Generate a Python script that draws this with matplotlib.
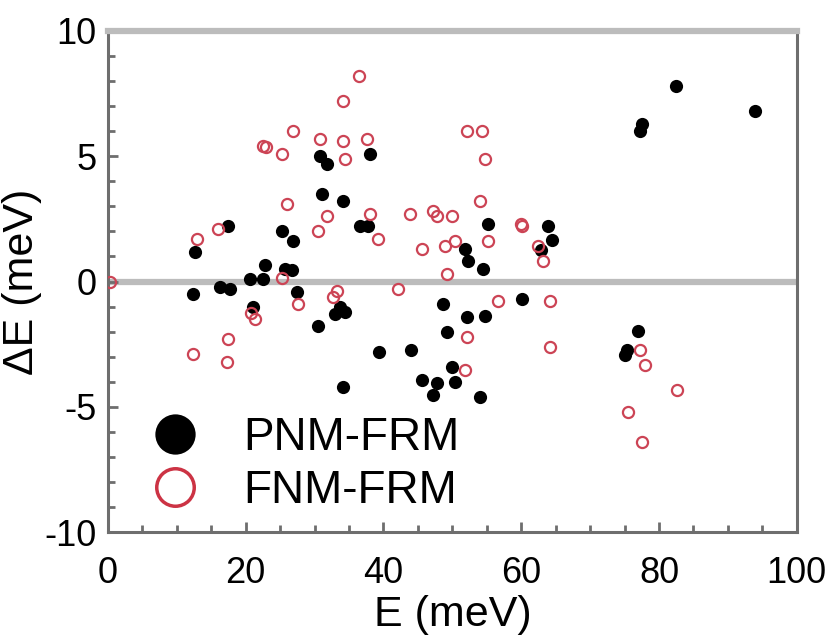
import matplotlib
matplotlib.use('Agg')
import matplotlib.pyplot as plt
from matplotlib.lines import Line2D
from matplotlib.ticker import MultipleLocator

plt.rcParams['font.family'] = ['Liberation Sans', 'DejaVu Sans']
plt.rcParams['axes.unicode_minus'] = False

# PNM-FRM (filled black)
pnm_e = [12.6, 12.3, 17.4, 16.3, 17.7, 20.6, 22.5, 22.8, 25.3, 26.9, 25.7, 26.7, 27.4, 21.0,
         30.8, 31.8, 38.0, 31.1, 34.1, 36.6, 37.7,
         33.7, 32.9, 34.4, 30.5, 39.3, 44.0, 34.1, 48.6, 52.1, 49.2, 49.9, 45.6, 47.7, 47.2, 50.4,
         51.8, 52.2, 55.2, 54.4, 63.9, 64.4, 62.8, 60.1, 54.7, 54.0,
         82.4, 77.6, 77.2, 93.9, 76.9, 75.3, 75.0]
pnm_de = [1.16, -0.5, 2.2, -0.2, -0.3, 0.12, 0.12, 0.64, 2.0, 1.6, 0.5, 0.44, -0.4, -1.0,
          5.0, 4.7, 5.1, 3.5, 3.2, 2.2, 2.2,
          -1.0, -1.28, -1.2, -1.76, -2.8, -2.75, -4.2, -0.88, -1.4, -2.0, -3.4, -3.95, -4.07, -4.55, -4.0,
          1.3, 0.8, 2.3, 0.48, 2.2, 1.64, 1.24, -0.68, -1.36, -4.6,
          7.8, 6.3, 6.0, 6.8, -1.96, -2.75, -2.95]

# FNM-FRM (open red)
fnm_e = [0.3, 12.9, 16.0, 22.5, 22.9, 25.3, 26.9, 26.0, 36.4, 34.1, 30.8, 34.1, 37.6, 34.4,
         31.8, 38.0, 30.5, 39.2, 43.8, 47.2, 47.8, 45.6, 52.1, 54.3, 54.7, 54.0, 49.9, 60.1, 60.0,
         48.9, 50.4, 55.2, 62.4, 63.1, 49.2, 25.3, 56.6, 64.2, 52.1, 64.2, 51.8,
         27.6, 33.2, 32.7, 42.1, 20.8, 21.3, 17.4, 12.3, 17.3,
         77.2, 77.9, 82.6, 75.5, 77.5]
fnm_de = [0.0, 1.7, 2.1, 5.4, 5.35, 5.1, 6.0, 3.1, 8.2, 7.2, 5.7, 5.6, 5.7, 4.9,
          2.6, 2.7, 2.0, 1.7, 2.7, 2.8, 2.6, 1.3, 6.0, 6.0, 4.9, 3.2, 2.6, 2.2, 2.3,
          1.4, 1.6, 1.6, 1.4, 0.8, 0.3, 0.16, -0.76, -0.76, -2.2, -2.6, -3.55,
          -0.88, -0.36, -0.6, -0.28, -1.24, -1.5, -2.3, -2.9, -3.2,
          -2.75, -3.35, -4.35, -5.2, -6.4]

red = '#cc4455'
gray = '#6e6e6e'
light = '#bcbcbc'

fig = plt.figure(figsize=(8.3, 6.39), dpi=100)
ax = fig.add_axes([0.130, 0.1674, 0.830, 0.7841])

ax.axhline(0, color=light, lw=4.5, zorder=0)
ax.plot(pnm_e, pnm_de, 'o', color='black', markersize=9.5, markeredgewidth=0, zorder=2)
ax.plot(fnm_e, fnm_de, 'o', markerfacecolor='none', markeredgecolor=red, markersize=8,
        markeredgewidth=1.6, zorder=3)

ax.set_xlim(0, 100)
ax.set_ylim(-10, 10)
ax.xaxis.set_major_locator(MultipleLocator(20))
ax.xaxis.set_minor_locator(MultipleLocator(5))
ax.yaxis.set_major_locator(MultipleLocator(5))
ax.yaxis.set_minor_locator(MultipleLocator(1))
ax.tick_params(which='both', direction='in', color=gray, width=2, top=False, right=False,
               labelsize=26)
ax.tick_params(axis='x', pad=17)
ax.tick_params(axis='y', pad=8)
ax.tick_params(which='major', length=7)
ax.tick_params(which='minor', length=5)

for s in ['left', 'bottom', 'right']:
    ax.spines[s].set_color(gray)
    ax.spines[s].set_linewidth(2.2)
ax.spines['top'].set_color(light)
ax.spines['top'].set_linewidth(4.5)

ax.set_xlabel('E (meV)', fontsize=31, labelpad=3)
ax.set_ylabel('ΔE (meV)', fontsize=31, labelpad=2)

handles = [Line2D([], [], marker='o', linestyle='none', color='black', markersize=29, markeredgewidth=0),
           Line2D([], [], marker='o', linestyle='none', markerfacecolor='none',
                  markeredgecolor='#cc3344', markersize=27, markeredgewidth=2.5)]
ax.legend(handles, ['PNM-FRM', 'FNM-FRM'], loc='lower left', bbox_to_anchor=(-0.016, -0.026),
          frameon=False, fontsize=33, handletextpad=0.5, labelspacing=0.2, borderpad=0.2)

fig.savefig('out.png', dpi=100)
